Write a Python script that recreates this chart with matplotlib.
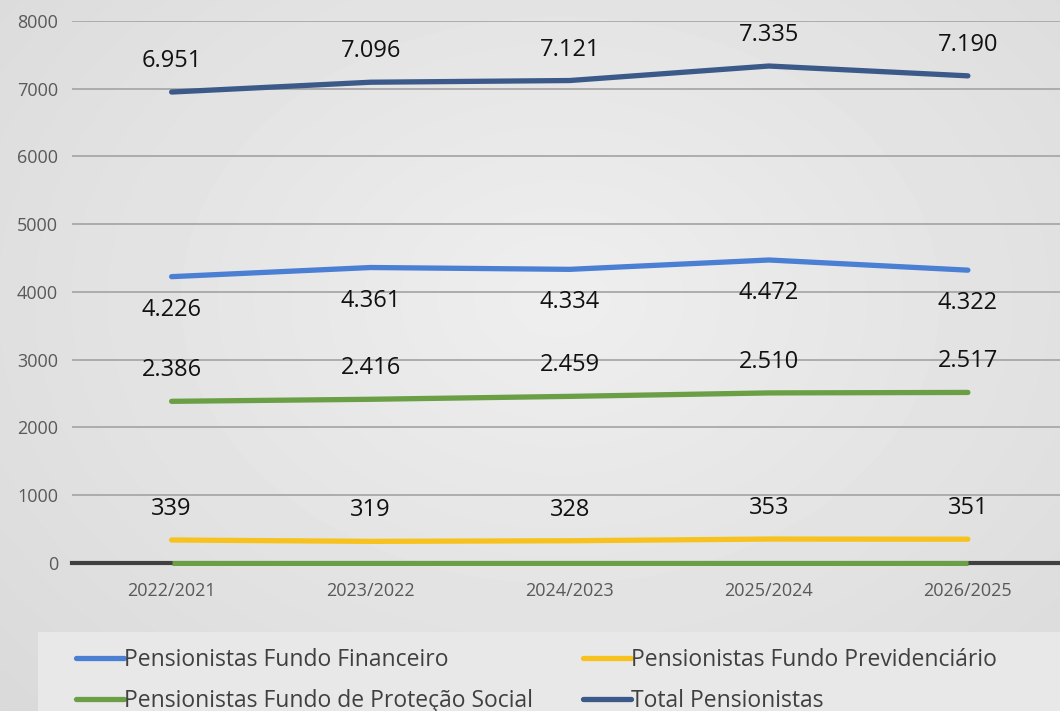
import numpy as np
import matplotlib
matplotlib.use("Agg")
import matplotlib.pyplot as plt
from matplotlib.patches import Rectangle

# dados
anos = ["2022/2021", "2023/2022", "2024/2023", "2025/2024", "2026/2025"]
financeiro = [4226, 4361, 4334, 4472, 4322]
previdenciario = [339, 319, 328, 353, 351]
protecao_social = [2386, 2416, 2459, 2510, 2517]
total = [6951, 7096, 7121, 7335, 7190]
linha_zero = [0, 0, 0, 0, 0]

plt.rcParams['font.family'] = ['Open Sans', 'DejaVu Sans']

fig = plt.figure(figsize=(10.6, 7.11), dpi=100)

# fundo em gradiente radial suave
bg = fig.add_axes([0, 0, 1, 1], zorder=-10)
yy, xx = np.mgrid[0:711, 0:1060]
r = np.sqrt(((xx - 560) / 750.0) ** 2 + ((yy - 300) / 560.0) ** 2)
shade = 0.935 - 0.08 * np.clip(r, 0, 1.2)
bg.imshow(shade, cmap='gray', vmin=0, vmax=1, aspect='auto', extent=[0, 1, 0, 1])
bg.axis('off')

ax = fig.add_axes([0.068, 0.2082, 0.939, 0.7623])
ax.patch.set_alpha(0)
x = np.arange(len(anos))

ax.set_ylim(0, 8000)
ax.set_xlim(-0.5, 4.5)
ax.set_yticks(range(0, 8001, 1000))
ax.yaxis.grid(True, color='#a8a8a8', linewidth=1.3)
ax.set_axisbelow(True)
for s in ax.spines.values():
    s.set_visible(False)
ax.axhline(0, color='#404040', linewidth=3.0, zorder=1, clip_on=False)
ax.tick_params(length=0, labelsize=13, labelcolor='#595959', pad=10)
ax.tick_params(axis='x', pad=14)
ax.set_xticks(x)
ax.set_xticklabels(anos)

series = [
    (financeiro, '#4a7fd4', 'Pensionistas Fundo Financeiro', -33),
    (previdenciario, '#f7c21e', 'Pensionistas Fundo Previdenciário', 31),
    (protecao_social, '#6a9f45', 'Pensionistas Fundo de Proteção Social', 31),
    (total, '#3b5a8a', 'Total Pensionistas', 31),
]
handles = []
for vals, cor, nome, off in series:
    h, = ax.plot(x, vals, color=cor, linewidth=3.8, solid_capstyle='round', label=nome, zorder=3)
    handles.append(h)
    for xi, v in zip(x, vals):
        txt = f"{v:,}".replace(",", ".")
        ax.annotate(txt, (xi, v), xytext=(0, off), textcoords='offset pixels',
                    ha='center', va='center', fontsize=17, color='#111111')

ax.plot(x, linha_zero, color='#6a9f45', linewidth=3.6, solid_capstyle='butt',
        zorder=2, clip_on=False)

# caixa da legenda
fig.patches.append(Rectangle((38 / 1060, 0), 1.0, 1 - 632 / 711, transform=fig.transFigure,
                             facecolor='#e8e8e8', edgecolor='none', zorder=-5))
order = [handles[0], handles[2], handles[1], handles[3]]
fig.legend(order, [h.get_label() for h in order], ncol=2, frameon=False,
           loc='upper left', bbox_to_anchor=(0.052, 1 - 627 / 711),
           fontsize=16.5, handlelength=2.1, handletextpad=0.0, columnspacing=2.2,
           labelspacing=0.75, labelcolor='#404040')

fig.savefig('out.png', dpi=100)
